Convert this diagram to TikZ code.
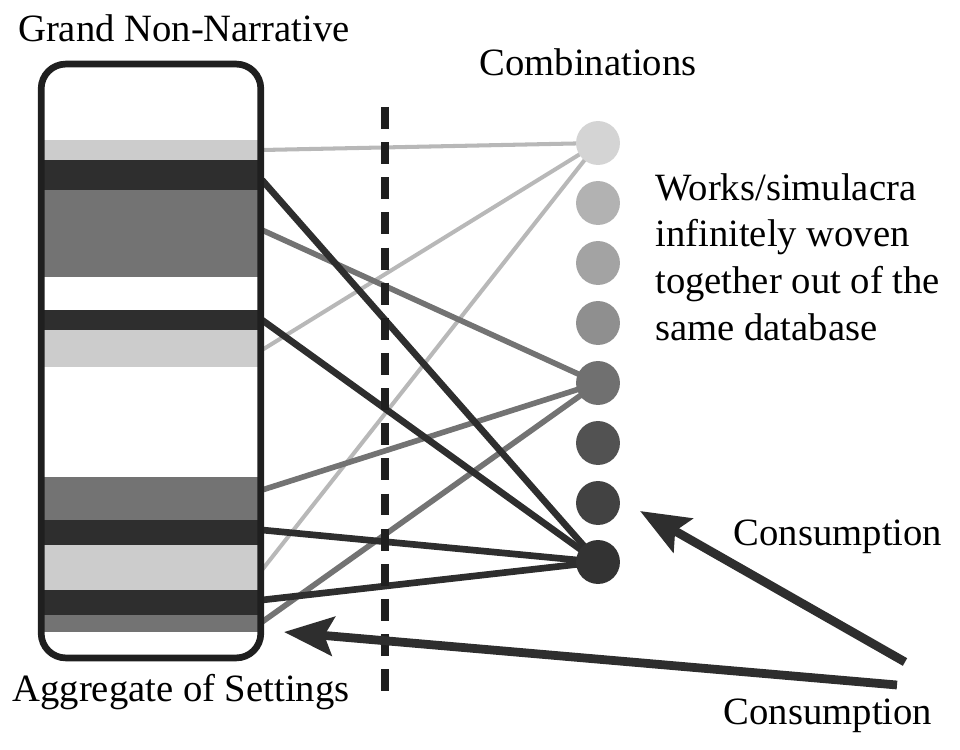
\documentclass[tikz,border=0pt]{standalone}
\usepackage{fontspec}
\setmainfont{Liberation Serif}
\usetikzlibrary{arrows.meta,backgrounds}
\definecolor{lightband}{gray}{0.80}
\definecolor{midband}{gray}{0.45}
\definecolor{darkband}{gray}{0.18}
\begin{document}
\begin{tikzpicture}[x=0.02cm,y=-0.02cm,
	every node/.style={font=\fontsize{22}{26.5}\selectfont},
	dot/.style={circle,inner sep=0pt,minimum size=25pt},
	lightline/.style={draw=lightband!90!black,line width=2.3pt},
	midline/.style={draw=midband,line width=3.2pt},
	darkline/.style={draw=darkband,line width=3.8pt},
	consume/.style={draw=darkband,line width=5pt,-{Stealth[length=28pt,width=22pt,inset=5pt]}}]
	\useasboundingbox (0,0) rectangle (960,750);
	\fill[lightband] (40,140) rectangle (262,160);
	\fill[darkband] (40,160) rectangle (262,190);
	\fill[midband] (40,190) rectangle (262,277);
	\fill[darkband] (40,310) rectangle (262,330);
	\fill[lightband] (40,330) rectangle (262,367);
	\fill[midband] (40,477) rectangle (262,520);
	\fill[darkband] (40,520) rectangle (262,545);
	\fill[lightband] (40,545) rectangle (262,590);
	\fill[darkband] (40,590) rectangle (262,615);
	\fill[midband] (40,615) rectangle (262,632);
	\node[draw=black!88,line width=3.8pt,rounded corners=14pt,minimum width=125pt,minimum height=338pt] (box) at (151,361) {};

	\node[dot,fill=black!17] (c1) at (598,143) {};
	\node[dot,fill=black!30] (c2) at (598,203) {};
	\node[dot,fill=black!36] (c3) at (598,263) {};
	\node[dot,fill=black!44] (c4) at (598,323) {};
	\node[dot,fill=black!56] (c5) at (598,383) {};
	\node[dot,fill=black!68] (c6) at (598,443) {};
	\node[dot,fill=black!74] (c7) at (598,503) {};
	\node[dot,fill=black!80] (c8) at (598,562) {};

	\coordinate (lt1) at (262,150);
	\coordinate (lt2) at (262,350);
	\coordinate (lt3) at (262,570);
	\coordinate (md1) at (262,230);
	\coordinate (md2) at (262,490);
	\coordinate (md3) at (262,622);
	\coordinate (dk1) at (262,180);
	\coordinate (dk2) at (262,320);
	\coordinate (dk3) at (262,530);
	\coordinate (dk4) at (262,600);
	\coordinate (dtop) at (385,107);
	\coordinate (dbot) at (385,697);

	\begin{scope}[on background layer]
		\draw[lightline] (lt1) -- (c1.center);
		\draw[lightline] (lt2) -- (c1.center);
		\draw[lightline] (lt3) -- (c1.center);
		\draw[midline] (md1) -- (c5.center);
		\draw[midline] (md2) -- (c5.center);
		\draw[midline] (md3) -- (c5.center);
		\draw[darkline] (dk1) -- (c8.center);
		\draw[darkline] (dk2) -- (c8.center);
		\draw[darkline] (dk3) -- (c8.center);
		\draw[darkline] (dk4) -- (c8.center);
	\end{scope}
	\draw[black!88,line width=4.5pt,dash pattern=on 12.5pt off 7.5pt] (dtop) -- (dbot);

	\coordinate (t1) at (905,662);
	\coordinate (h1) at (640,511);
	\coordinate (t2) at (897,685);
	\coordinate (h2) at (284,632);
	\draw[consume] (t1) -- (h1);
	\draw[consume] (t2) -- (h2);

	\node (title) at (184,28) {Grand Non-Narrative};
	\node (comb) at (588,62) {Combinations};
	\node[align=left,anchor=west,inner sep=0pt] (works) at (655,257) {Works/simulacra\\infinitely woven\\together out of the\\same database};
	\node (cons1) at (838,537) {Consumption};
	\node (cons2) at (828,716) {Consumption};
	\node (aggr) at (181,692) {Aggregate of Settings};
\end{tikzpicture}
\end{document}
